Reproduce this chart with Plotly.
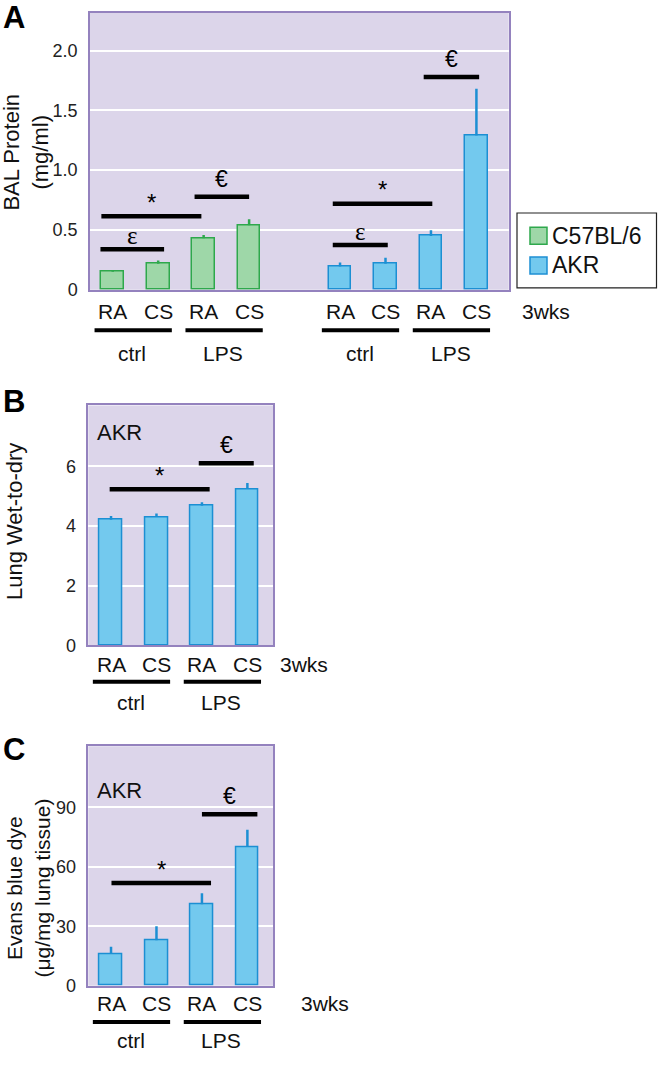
import plotly.graph_objects as go

# ---------------- data ----------------
conditions = ["RA", "CS", "RA", "CS"]
treatments = ["ctrl", "LPS"]
strains = ["C57BL/6", "AKR"]
time_label = "3wks"

bal_c57 = [0.15, 0.217, 0.43, 0.54]
bal_c57_err = [0.012, 0.027, 0.027, 0.05]
bal_akr = [0.195, 0.217, 0.45, 1.29]
bal_akr_err = [0.033, 0.05, 0.047, 0.39]

wet_akr = [4.21, 4.30, 4.68, 5.24]
wet_akr_err = [0.13, 0.12, 0.12, 0.20]

evans_akr = [16.0, 22.9, 41.1, 70.0]
evans_akr_err = [3.6, 7.1, 5.6, 8.7]

# significance brackets: (x-start, x-end, height, symbol)
sig_a = [(-0.27, 1.13, 0.338, "ε"), (-0.25, 1.95, 0.614, "*"), (1.8, 3.0, 0.777, "€"),
         (4.84, 6.05, 0.374, "ε"), (4.84, 7.03, 0.719, "*"), (6.84, 8.06, 1.779, "€")]
sig_b = [(-0.03, 2.17, 5.23, "*"), (1.93, 3.14, 6.10, "€")]
sig_c = [(0.01, 2.2, 51.8, "*"), (2.0, 3.22, 86.5, "€")]

# ---------------- style ----------------
W, H = 658, 1068
FONT = "Arial, Liberation Sans, sans-serif"
BG = "#DCD5EA"
FRAME = "#9482BE"
GREEN_FILL, GREEN_LINE = "#9ED7A8", "#2EA84C"
BLUE_FILL, BLUE_LINE = "#73C9EE", "#1C8FD3"
TXT = "#111"


def px(x):
    return x / W


def py(y):
    return 1 - y / H


fig = go.Figure()

pos_c57 = [0, 1, 2, 3]
pos_akr = [5, 6, 7, 8]
pos_single = [0, 1, 2, 3]


def add_bars(x, y, err, fill, line, name, xa, ya):
    fig.add_trace(go.Bar(
        x=x, y=y, width=0.5, name=name, showlegend=False,
        marker=dict(color=fill, line=dict(color=line, width=1.5)),
        error_y=dict(type="data", array=err, arrayminus=[0] * len(err), symmetric=False,
                     color=line, thickness=2.5, width=0),
        xaxis=xa, yaxis=ya,
    ))


add_bars(pos_c57, bal_c57, bal_c57_err, GREEN_FILL, GREEN_LINE, strains[0], "x", "y")
add_bars(pos_akr, bal_akr, bal_akr_err, BLUE_FILL, BLUE_LINE, strains[1], "x", "y")
add_bars(pos_single, wet_akr, wet_akr_err, BLUE_FILL, BLUE_LINE, strains[1], "x2", "y2")
add_bars(pos_single, evans_akr, evans_akr_err, BLUE_FILL, BLUE_LINE, strains[1], "x3", "y3")

shapes = []
annotations = []

# significance bars
for sig, xr, yr in [(sig_a, "x", "y"), (sig_b, "x2", "y2"), (sig_c, "x3", "y3")]:
    for x0, x1, h, sym in sig:
        shapes.append(dict(type="line", xref=xr, yref=yr, x0=x0, x1=x1, y0=h, y1=h,
                           line=dict(color="black", width=4.5)))
        fam = "Liberation Serif, Times New Roman, serif" if sym == "ε" else FONT
        shift = {"ε": 14, "*": 14, "€": 18}[sym]
        size = {"ε": 25, "*": 24, "€": 23}[sym]
        annotations.append(dict(xref=xr, yref=yr, x=(x0 + x1) / 2, y=h, text=sym,
                                showarrow=False, yanchor="middle", yshift=shift,
                                font=dict(family=fam, size=size, color="black")))


# category labels, group underlines, treatment labels
def add_group_labels(xr, positions, y_lab, y_line, y_grp):
    for p, c in zip(positions, conditions):
        annotations.append(dict(xref=xr, yref="paper", x=p, y=py(y_lab), text=c, showarrow=False,
                                yanchor="middle", font=dict(family=FONT, size=21, color=TXT)))
    for g in range(2):
        a, b = positions[2 * g], positions[2 * g + 1]
        shapes.append(dict(type="line", xref=xr, yref="paper", x0=a - 0.4, x1=b + 0.3,
                           y0=py(y_line), y1=py(y_line), line=dict(color="black", width=4)))
        annotations.append(dict(xref=xr, yref="paper", x=(a + b) / 2 - 0.07, y=py(y_grp),
                                text=treatments[g], showarrow=False, yanchor="middle",
                                font=dict(family=FONT, size=21, color=TXT)))


add_group_labels("x", pos_c57, 314, 333.3, 357)
add_group_labels("x", pos_akr, 314, 333.3, 357)
add_group_labels("x2", pos_single, 671, 688.3, 709)
add_group_labels("x3", pos_single, 1013, 1031.7, 1050)

for x, y in [(546, 314), (304, 671), (325, 1013)]:
    annotations.append(dict(xref="paper", yref="paper", x=px(x), y=py(y), text=time_label,
                            showarrow=False, xanchor="center", yanchor="middle",
                            font=dict(family=FONT, size=21, color=TXT)))

# strain labels inside B and C
for y in [436.7, 798]:
    annotations.append(dict(xref="paper", yref="paper", x=px(95), y=py(y), text="AKR",
                            showarrow=False, xanchor="left", yanchor="middle",
                            font=dict(family=FONT, size=22, color=TXT)))

# panel letters
for letter, y in [("A", 18), ("B", 405), ("C", 757)]:
    annotations.append(dict(xref="paper", yref="paper", x=px(1), y=py(y), text="<b>%s</b>" % letter,
                            showarrow=False, xanchor="left", yanchor="middle",
                            font=dict(family=FONT, size=31, color="black")))

# axis titles
for txt, x, y, fs in [("BAL Protein<br>(mg/ml)", 26, 154, 22),
                      ("Lung Wet-to-dry", 14, 527, 22),
                      ("Evans blue dye<br>(μg/mg lung tissue)", 28, 897, 21)]:
    annotations.append(dict(xref="paper", yref="paper", x=px(x), y=py(y), text=txt,
                            showarrow=False, textangle=-90, xanchor="center", yanchor="middle",
                            font=dict(family=FONT, size=fs, color=TXT)))

# legend (strain key)
shapes.append(dict(type="rect", xref="paper", yref="paper", x0=px(517), x1=px(656.5),
                   y0=py(290.5), y1=py(215), line=dict(color="#222", width=1.2),
                   fillcolor="white"))
for i, (name, fill, line) in enumerate([(strains[0], GREEN_FILL, GREEN_LINE),
                                        (strains[1], BLUE_FILL, BLUE_LINE)]):
    yc = 238 + 30 * i
    shapes.append(dict(type="rect", xref="paper", yref="paper", x0=px(530), x1=px(547),
                       y0=py(yc + 8.5), y1=py(yc - 8.5), fillcolor=fill,
                       line=dict(color=line, width=1.5)))
    annotations.append(dict(xref="paper", yref="paper", x=px(550), y=py(yc), text=name,
                            showarrow=False, xanchor="left", yanchor="middle",
                            font=dict(family=FONT, size=23, color=TXT)))

xcommon = dict(showgrid=False, zeroline=False, showticklabels=False, ticks="",
               showline=True, linecolor=FRAME, linewidth=1.5, mirror=True, fixedrange=True)
ycommon = dict(showgrid=True, gridcolor="white", gridwidth=2, zeroline=False,
               showline=True, linecolor=FRAME, linewidth=1.5, mirror=True,
               ticks="outside", ticklen=7, tickcolor="rgba(0,0,0,0)",
               tickfont=dict(family=FONT, size=18, color="#222"))

fig.update_layout(
    width=W, height=H, margin=dict(l=0, r=0, t=0, b=0),
    paper_bgcolor="white", plot_bgcolor=BG,
    bargap=0, showlegend=False,
    xaxis=dict(domain=[px(90), px(508.7)], range=[-0.5, 8.71], anchor="y", **xcommon),
    yaxis=dict(domain=[py(292.5), py(12.7)], range=[0, 2.317], anchor="x",
               tickvals=[0, 0.5, 1, 1.5, 2], ticktext=["0", "0.5", "1.0", "1.5", "2.0"], **ycommon),
    xaxis2=dict(domain=[px(88.3), px(273.3)], range=[-0.5, 3.57], anchor="y2", **xcommon),
    yaxis2=dict(domain=[py(651.5), py(409.3)], range=[0, 8.04], anchor="x2",
                tickvals=[0, 2, 4, 6], **ycommon),
    xaxis3=dict(domain=[px(88.3), px(273.3)], range=[-0.5, 3.57], anchor="y3", **xcommon),
    yaxis3=dict(domain=[py(995), py(753.3)], range=[0, 120.85], anchor="x3",
                tickvals=[0, 30, 60, 90], **ycommon),
    shapes=shapes, annotations=annotations,
    font=dict(family=FONT),
)

fig.write_html("out.html", config={"displayModeBar": False},
               post_script="document.body.style.margin='0px';")
